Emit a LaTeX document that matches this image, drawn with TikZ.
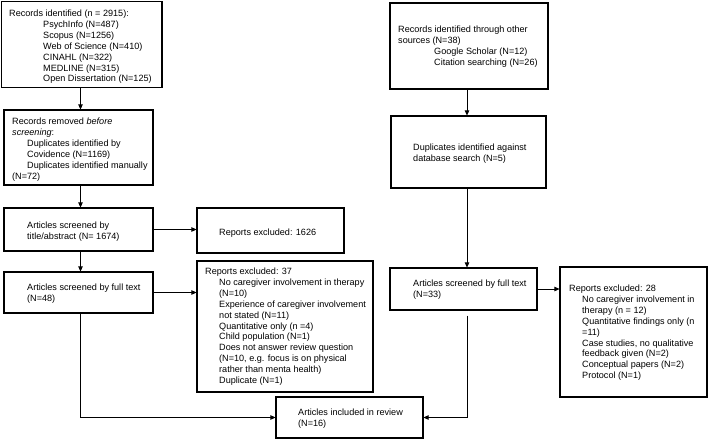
\documentclass[tikz,border=0pt]{standalone}
\usepackage{fontspec}
\setmainfont{Liberation Sans}
\usetikzlibrary{arrows.meta}
\begin{document}
\begin{tikzpicture}[x=1pt,y=-1pt,
 box/.style={draw, line width=1.1pt, inner sep=0pt},
 txt/.style={anchor=base west, inner sep=0pt, text=black, font=\fontsize{9.1}{10.9}\selectfont},
 arr/.style={line width=0.7pt, -{Triangle[length=5pt,width=4.5pt]}}]
\useasboundingbox (0,0) rectangle (709,439);
% boxes
\node[box, minimum width=160.5, minimum height=86] (b1) at (81.75,44.5) {};
\node[box, minimum width=149, minimum height=75] (b2) at (78.5,147.5) {};
\node[box, minimum width=149, minimum height=43] (b3) at (78.5,229.5) {};
\node[box, minimum width=147, minimum height=45] (b4) at (270.5,230.5) {};
\node[box, minimum width=149, minimum height=41] (b5) at (78.5,292.5) {};
\node[box, minimum width=176, minimum height=131] (b6) at (285,326.5) {};
\node[box, minimum width=147, minimum height=41] (b7) at (349.5,417.5) {};
\node[box, minimum width=158, minimum height=86] (b8) at (469,46) {};
\node[box, minimum width=155, minimum height=72] (b9) at (468.5,152) {};
\node[box, minimum width=147, minimum height=42] (b10) at (463.5,289) {};
\node[box, minimum width=147, minimum height=130] (b11) at (633.5,332) {};
% texts
\node[txt] (t1) at (9,16.5) {\parbox[t]{200pt}{\raggedright Records identified (n = 2915):\\
\hspace*{34pt}PsychInfo (N=487)\\
\hspace*{34pt}Scopus (N=1256)\\
\hspace*{34pt}Web of Science (N=410)\\
\hspace*{34pt}CINAHL (N=322)\\
\hspace*{34pt}MEDLINE (N=315)\\
\hspace*{34pt}Open Dissertation (N=125)}};
\node[txt] (t2) at (12,124.5) {\parbox[t]{200pt}{\raggedright Records removed \textit{before}\\
\textit{screening}:\\
\hspace*{15pt}Duplicates identified by\\
\hspace*{15pt}Covidence (N=1169)\\
\hspace*{15pt}Duplicates identified manually\\
(N=72)}};
\node[txt] (t3) at (27,228.5) {\parbox[t]{200pt}{\raggedright Articles screened by\\title/abstract (N= 1674)}};
\node[txt] (t4) at (219,235.5) {Reports excluded: 1626};
\node[txt] (t5) at (27,290.5) {\parbox[t]{200pt}{\raggedright Articles screened by full text\\(N=48)}};
\node[txt] (t6) at (205,274.5) {\parbox[t]{200pt}{\raggedright Reports excluded: 37\\
\hspace*{14pt}No caregiver involvement in therapy\\
\hspace*{14pt}(N=10)\\
\hspace*{14pt}Experience of caregiver involvement\\
\hspace*{14pt}not stated (N=11)\\
\hspace*{14pt}Quantitative only (n =4)\\
\hspace*{14pt}Child population (N=1)\\
\hspace*{14pt}Does not answer review question\\
\hspace*{14pt}(N=10, e.g. focus is on physical\\
\hspace*{14pt}rather than menta health)\\
\hspace*{14pt}Duplicate (N=1)}};
\node[txt] (t7) at (298,415.5) {\parbox[t]{200pt}{\raggedright Articles included in review\\(N=16)}};
\node[txt] (t8) at (398,32.5) {\parbox[t]{200pt}{\raggedright Records identified through other\\
sources (N=38)\\
\hspace*{36pt}Google Scholar (N=12)\\
\hspace*{36pt}Citation searching (N=26)}};
\node[txt] (t9) at (413,150.5) {\parbox[t]{200pt}{\raggedright Duplicates identified against\\database search (N=5)}};
\node[txt] (t10) at (413,286.5) {\parbox[t]{200pt}{\raggedright Articles screened by full text\\(N=33)}};
\node[txt] (t11) at (569,291.5) {\parbox[t]{200pt}{\raggedright Reports excluded: 28\\
\hspace*{13pt}No caregiver involvement in\\
\hspace*{13pt}therapy (n = 12)\\
\hspace*{13pt}Quantitative findings only (n\\
\hspace*{13pt}=11)\\
\hspace*{13pt}Case studies, no qualitative\\
\hspace*{13pt}feedback given (N=2)\\
\hspace*{13pt}Conceptual papers (N=2)\\
\hspace*{13pt}Protocol (N=1)}};
% connectors
\coordinate (xl) at (80.5,0);
\coordinate (xr) at (467,0);
\draw[arr] (b1.south -| xl) -- (b2.north -| xl);
\draw[arr] (b2.south -| xl) -- (b3.north -| xl);
\draw[arr] (b3.south -| xl) -- (b5.north -| xl);
\draw[arr] (b3.east) -- (b3.east -| b4.west);
\draw[arr] (b5.east) -- (b5.east -| b6.west);
\draw[arr] (b5.south -| xl) |- (b7.west);
\draw[arr] (b8.south -| xr) -- (b9.north -| xr);
\draw[arr] (b9.south -| xr) -- (b10.north -| xr);
\draw[arr] (b10.east) -- (b10.east -| b11.west);
\draw[arr, shorten <=5pt] (b10.south -| xr) |- (b7.east);
\end{tikzpicture}
\end{document}
